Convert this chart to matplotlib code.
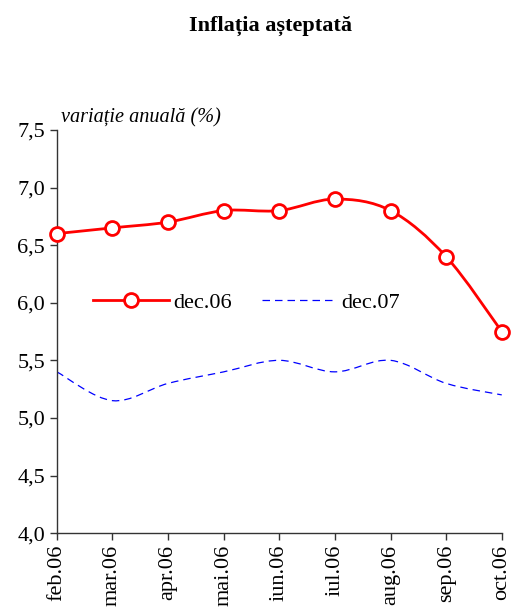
import numpy as np
import matplotlib
matplotlib.use("Agg")
import matplotlib.pyplot as plt
from matplotlib.path import Path
from matplotlib.patches import PathPatch
from matplotlib.ticker import FuncFormatter

months = ["feb.06", "mar.06", "apr.06", "mai.06", "iun.06", "iul.06", "aug.06", "sep.06", "oct.06"]
dec06 = [6.6, 6.65, 6.7, 6.8, 6.8, 6.9, 6.8, 6.4, 5.75]
dec07 = [5.4, 5.15, 5.3, 5.4, 5.5, 5.4, 5.5, 5.3, 5.2]

plt.rcParams['font.family'] = ['Liberation Serif', 'DejaVu Serif']


def smooth_path(x, y):
    # Excel-style smoothed line: cubic bezier through points (Catmull-Rom, tension 1/6)
    pts = np.column_stack([x, y]).astype(float)
    verts = [pts[0]]
    codes = [Path.MOVETO]
    n = len(pts)
    for i in range(n - 1):
        p0 = pts[i - 1] if i > 0 else pts[i]
        p1 = pts[i]
        p2 = pts[i + 1]
        p3 = pts[i + 2] if i + 2 < n else pts[i + 1]
        c1 = p1 + (p2 - p0) / 6.0
        c2 = p2 - (p3 - p1) / 6.0
        verts += [c1, c2, p2]
        codes += [Path.CURVE4] * 3
    return Path(verts, codes)


fig = plt.figure(figsize=(5.12, 6.10), dpi=100)
ax = fig.add_axes([0.111, 0.126, 0.869, 0.661])

x = np.arange(len(months))

ax.add_patch(PathPatch(smooth_path(x, dec07), fill=False, edgecolor="blue",
                       lw=0.9, linestyle=(0, (6, 4))))
ax.add_patch(PathPatch(smooth_path(x, dec06), fill=False, edgecolor="red", lw=2.0))
ax.plot(x, dec06, linestyle="none", marker="o", ms=10, mfc="white", mec="red", mew=2, zorder=5,
        clip_on=False)

# legend proxies
h1, = ax.plot([], [], color="red", lw=2.0, marker="o", ms=10, mfc="white", mec="red", mew=2,
              label="dec.06")
h2, = ax.plot([], [], color="blue", lw=0.9, linestyle=(0, (6, 4)), label="dec.07")
ax.legend(handles=[h1, h2], loc="center left", bbox_to_anchor=(0.65, 6.0),
          bbox_transform=ax.transData, ncol=2, frameon=False, fontsize=16,
          handlelength=3.4, columnspacing=1.35, handletextpad=0.2,
          borderaxespad=0, borderpad=0)

ax.set_xlim(0, 8)
ax.set_ylim(4.0, 7.5)
ax.set_yticks(np.arange(4.0, 7.51, 0.5))
ax.yaxis.set_major_formatter(FuncFormatter(lambda v, p: f"{v:.1f}".replace(".", ",")))
ax.set_xticks(x)
ax.set_xticklabels(months, rotation=90)
ax.tick_params(axis="both", labelsize=16, direction="out", length=5, width=1, color="#333333")
for s in ["top", "right"]:
    ax.spines[s].set_visible(False)
for s in ["left", "bottom"]:
    ax.spines[s].set_color("#333333")
    ax.spines[s].set_linewidth(1)

ax.text(0.01, 1.005, "variație anuală (%)", transform=ax.transAxes, fontsize=14.6,
        style="italic", va="bottom", ha="left")
fig.text(0.528, 0.958, "Inflația așteptată", fontsize=16, fontweight="bold",
         ha="center", va="center")

fig.savefig("out.png", dpi=100)
